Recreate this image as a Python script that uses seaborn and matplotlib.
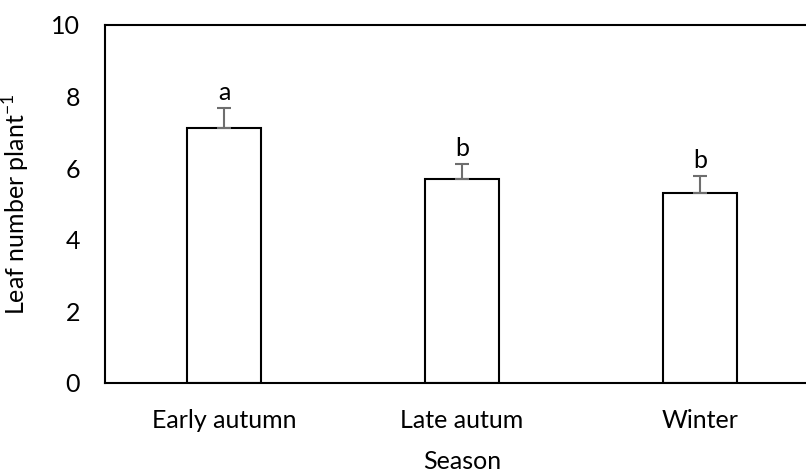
import numpy as np
import pandas as pd
from matplotlib import pyplot as plt
import seaborn as sns

seasons = ["Early autumn", "Late autum", "Winter"]
leaf_number = [7.13, 5.70, 5.31]
std_err = [0.54, 0.41, 0.47]
letters = ["a", "b", "b"]

sns.set_style("white")
plt.rcParams['font.family'] = ['Lato', 'DejaVu Sans']
plt.rcParams['text.color'] = 'black'
plt.rcParams['axes.labelcolor'] = 'black'
plt.rcParams['xtick.color'] = 'black'
plt.rcParams['ytick.color'] = 'black'

df = pd.DataFrame({"Season": seasons, "Leaf": leaf_number})

fig = plt.figure(figsize=(8.06, 4.76), dpi=100)
ax = fig.add_axes([105 / 806, 1 - 383 / 476, 714 / 806, 358 / 476])

sns.barplot(data=df, x="Season", y="Leaf", color="white", edgecolor="black",
            linewidth=1.5, width=0.315, errorbar=None, ax=ax)

x = np.arange(len(seasons))
ax.errorbar(x, leaf_number, yerr=[np.zeros(len(std_err)), std_err], fmt="none",
            ecolor="#6e6e6e", elinewidth=1.5, capsize=5, capthick=1.5, zorder=1)

for i in range(len(seasons)):
    ax.text(x[i], leaf_number[i] + std_err[i] + 0.12, letters[i], ha="center",
            va="bottom", fontsize=18)

ax.set_ylim(0, 10)
ax.set_yticks([0, 2, 4, 6, 8, 10])
ax.set_xlim(-0.5, 2.5)
ax.set_xlabel("Season", fontsize=18, labelpad=13)
ax.set_ylabel("Leaf number plant$^{\\mathregular{-1}}$", fontsize=18, labelpad=14)
ax.tick_params(axis="both", length=0, labelsize=18)
ax.tick_params(axis="x", pad=19)
ax.tick_params(axis="y", pad=18)

for s in ["left", "bottom", "top"]:
    ax.spines[s].set_color("black")
    ax.spines[s].set_linewidth(1.5)
ax.spines["right"].set_visible(False)

fig.savefig("out.png", dpi=100)
